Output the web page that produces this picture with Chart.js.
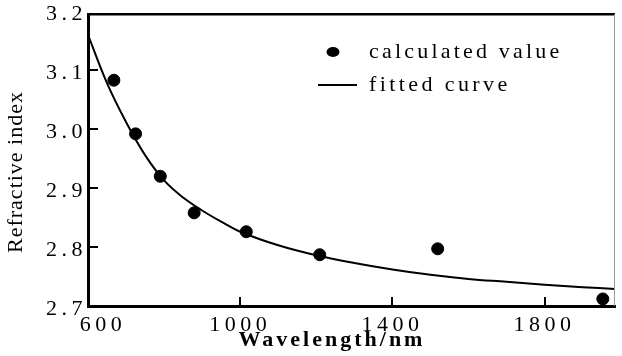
<!DOCTYPE html>
<html lang="en">
<head>
<meta charset="UTF-8">
<title>Refractive index vs wavelength</title>
<script src="https://cdn.jsdelivr.net/npm/chart.js"></script>
<style>
  html, body { margin: 0; padding: 0; background: #fff; }
  canvas { display: block; }
</style>
</head>
<body>
<canvas id="chart" width="622" height="356"></canvas>
<script>
// calculated values (dots)
const calcWavelength = [668, 725, 790, 879, 1016, 1209, 1519, 1953];
const calcIndex = [3.083, 2.992, 2.920, 2.858, 2.826, 2.787, 2.797, 2.712];

// fitted curve
const fitWavelength = [600, 650, 700, 750, 800, 850, 900, 950, 1000, 1100, 1200, 1300, 1400, 1500, 1600, 1700, 1800, 1900, 1985];
const fitIndex = [3.160, 3.078, 3.012, 2.956, 2.913, 2.884, 2.862, 2.843, 2.826, 2.803, 2.786, 2.773, 2.762, 2.753, 2.746, 2.741, 2.736, 2.732, 2.729];

const xTicks = [600, 1000, 1400, 1800];
const yTicks = [2.7, 2.8, 2.9, 3.0, 3.1, 3.2];

const serif = '"Liberation Serif", "Times New Roman", serif';

function spacedText(ctx, text, x, y, spacing) {
    ctx.letterSpacing = spacing + 'px';
    ctx.fillText(text, x, y);
}

const framePlugin = {
    id: 'frame',
    beforeDraw(chart) {
        chart.ctx.letterSpacing = '4.5px';
    },
    afterDraw(chart) {
        const { ctx, chartArea: a, scales: { x, y } } = chart;
        ctx.save();
        ctx.letterSpacing = '0px';

        // top and right edges of the frame
        ctx.strokeStyle = '#000';
        ctx.lineWidth = 2.5;
        ctx.beginPath();
        ctx.moveTo(a.left, a.top);
        ctx.lineTo(a.right, a.top);
        ctx.stroke();
        ctx.strokeStyle = '#9a9a9a';
        ctx.lineWidth = 1;
        ctx.beginPath();
        ctx.moveTo(a.right - 0.5, a.top);
        ctx.lineTo(a.right - 0.5, a.bottom);
        ctx.stroke();

        // tick marks point into the plot
        ctx.strokeStyle = '#000';
        ctx.lineWidth = 2;
        yTicks.forEach(v => {
            if (v <= y.min || v >= y.max) return;
            const py = Math.round(y.getPixelForValue(v));
            ctx.beginPath();
            ctx.moveTo(a.left, py);
            ctx.lineTo(a.left + 10, py);
            ctx.stroke();
        });
        xTicks.forEach(v => {
            if (v <= x.min || v >= x.max) return;
            const px = Math.round(x.getPixelForValue(v));
            ctx.beginPath();
            ctx.moveTo(px, a.bottom);
            ctx.lineTo(px, a.bottom - 9);
            ctx.stroke();
        });

        // axis titles
        ctx.fillStyle = '#000';
        ctx.textAlign = 'center';
        ctx.textBaseline = 'middle';
        ctx.font = 'bold 22px ' + serif;
        spacedText(ctx, 'Wavelength/nm', 332, 340, 3);

        ctx.save();
        ctx.translate(16, 172);
        ctx.rotate(-Math.PI / 2);
        ctx.font = '22px ' + serif;
        spacedText(ctx, 'Refractive index', 0, 0, 1);
        ctx.restore();

        // legend
        ctx.beginPath();
        ctx.ellipse(333, 52, 6.5, 5, 0, 0, Math.PI * 2);
        ctx.fill();
        ctx.lineWidth = 2;
        ctx.beginPath();
        ctx.moveTo(318, 85);
        ctx.lineTo(357, 85);
        ctx.stroke();

        ctx.textAlign = 'left';
        ctx.font = '22px ' + serif;
        spacedText(ctx, 'calculated value', 369, 52, 3.2);
        spacedText(ctx, 'fitted curve', 369, 85, 3.4);

        ctx.restore();
    }
};

const calcPoints = calcWavelength.map((w, i) => ({ x: w, y: calcIndex[i] }));
const fitPoints = fitWavelength.map((w, i) => ({ x: w, y: fitIndex[i] }));

new Chart(document.getElementById('chart'), {
    type: 'scatter',
    data: {
        datasets: [
            {
                label: 'calculated value',
                data: calcPoints,
                backgroundColor: '#000',
                borderColor: '#000',
                pointRadius: 6,
                pointHoverRadius: 6
            },
            {
                label: 'fitted curve',
                data: fitPoints,
                showLine: true,
                borderColor: '#000',
                borderWidth: 2,
                pointRadius: 0,
                tension: 0.4
            }
        ]
    },
    options: {
        responsive: false,
        animation: false,
        layout: { padding: { top: 11, right: 2, left: 0, bottom: 0 } },
        plugins: {
            legend: { display: false },
            tooltip: { enabled: false }
        },
        scales: {
            x: {
                type: 'linear',
                min: 600,
                max: 1985,
                afterFit(scale) { scale.height = 50; },
                afterBuildTicks(scale) { scale.ticks = xTicks.map(v => ({ value: v })); },
                grid: { drawOnChartArea: false, drawTicks: false },
                border: { color: '#000', width: 3 },
                ticks: {
                    padding: 6,
                    color: '#000',
                    font: { family: serif, size: 22 },
                    callback: v => (v === 600 ? '   ' + v : String(v))
                }
            },
            y: {
                type: 'linear',
                min: 2.7,
                max: 3.195,
                afterFit(scale) { scale.width = 88; },
                afterBuildTicks(scale) { scale.ticks = yTicks.map(v => ({ value: v })); },
                grid: { drawOnChartArea: false, drawTicks: false },
                border: { color: '#000', width: 3 },
                ticks: {
                    padding: 1,
                    labelOffset: 3,
                    color: '#000',
                    font: { family: serif, size: 22 },
                    callback: v => v.toFixed(1)
                }
            }
        }
    },
    plugins: [framePlugin]
});
</script>
</body>
</html>
